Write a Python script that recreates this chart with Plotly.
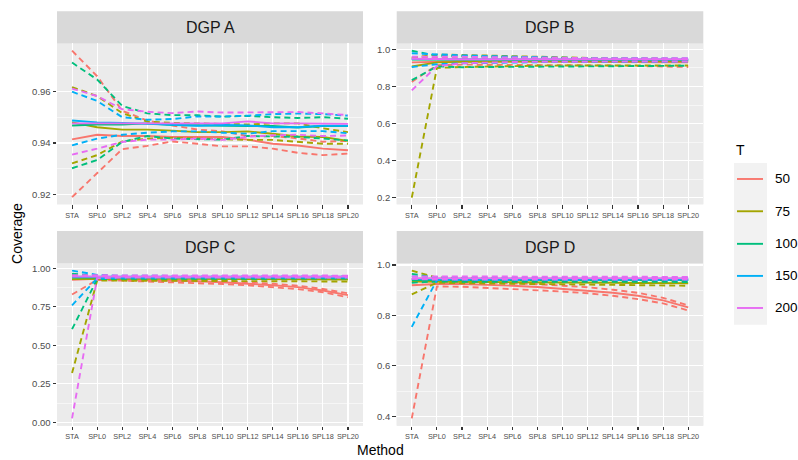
import plotly.graph_objects as go

methods = ["STA", "SPL0", "SPL2", "SPL4", "SPL6", "SPL8", "SPL10", "SPL12", "SPL14", "SPL16", "SPL18", "SPL20"]
T_levels = ["50", "75", "100", "150", "200"]
T_colors = ["#F8766D", "#A3A500", "#00BF7D", "#00B0F6", "#E76BF3"]
panels = ["DGP A", "DGP B", "DGP C", "DGP D"]

# ---------------- DGP A ----------------
A_50_hi = [0.9758, 0.9659, 0.9525, 0.9487, 0.9468, 0.9452, 0.9445, 0.9427, 0.9427, 0.9418, 0.9405, 0.9408]
A_50_mid = [0.9414, 0.9432, 0.9427, 0.9427, 0.9423, 0.9423, 0.9423, 0.9413, 0.9397, 0.9390, 0.9378, 0.9372]
A_50_lo = [0.9190, 0.9283, 0.9376, 0.9389, 0.9406, 0.9397, 0.9387, 0.9387, 0.9378, 0.9362, 0.9353, 0.9359]
A_75_hi = [0.9617, 0.9582, 0.9516, 0.9483, 0.9478, 0.9476, 0.9476, 0.9472, 0.9476, 0.9476, 0.9457, 0.9442]
A_75_mid = [0.9480, 0.9461, 0.9452, 0.9452, 0.9448, 0.9442, 0.9442, 0.9445, 0.9436, 0.9425, 0.9423, 0.9408]
A_75_lo = [0.9321, 0.9353, 0.9406, 0.9417, 0.9420, 0.9417, 0.9413, 0.9412, 0.9412, 0.9405, 0.9397, 0.9397]
A_100_hi = [0.9712, 0.9646, 0.9544, 0.9515, 0.9508, 0.9508, 0.9502, 0.9505, 0.9500, 0.9497, 0.9500, 0.9494]
A_100_mid = [0.9468, 0.9472, 0.9472, 0.9476, 0.9470, 0.9468, 0.9468, 0.9466, 0.9466, 0.9460, 0.9466, 0.9466]
A_100_lo = [0.9302, 0.9334, 0.9404, 0.9427, 0.9417, 0.9414, 0.9413, 0.9427, 0.9426, 0.9424, 0.9417, 0.9410]
A_150_hi = [0.9599, 0.9563, 0.9500, 0.9490, 0.9493, 0.9503, 0.9503, 0.9506, 0.9512, 0.9514, 0.9512, 0.9506]
A_150_mid = [0.9487, 0.9480, 0.9478, 0.9474, 0.9470, 0.9467, 0.9470, 0.9468, 0.9461, 0.9461, 0.9467, 0.9467]
A_150_lo = [0.9391, 0.9417, 0.9432, 0.9440, 0.9445, 0.9445, 0.9440, 0.9436, 0.9446, 0.9446, 0.9446, 0.9438]
A_200_hi = [0.9611, 0.9582, 0.9531, 0.9521, 0.9516, 0.9522, 0.9518, 0.9518, 0.9518, 0.9520, 0.9515, 0.9508]
A_200_mid = [0.9476, 0.9476, 0.9476, 0.9476, 0.9476, 0.9476, 0.9476, 0.9484, 0.9476, 0.9476, 0.9476, 0.9474]
A_200_lo = [0.9355, 0.9378, 0.9404, 0.9413, 0.9413, 0.9417, 0.9412, 0.9424, 0.9430, 0.9432, 0.9427, 0.9429]

# ---------------- DGP B ----------------
B_50_hi = [0.955, 0.955, 0.955, 0.952, 0.950, 0.948, 0.947, 0.946, 0.946, 0.945, 0.945, 0.944]
B_50_mid = [0.930, 0.935, 0.936, 0.935, 0.935, 0.934, 0.934, 0.933, 0.933, 0.932, 0.931, 0.930]
B_50_lo = [0.825, 0.915, 0.918, 0.918, 0.917, 0.916, 0.915, 0.914, 0.913, 0.911, 0.909, 0.905]
B_75_hi = [0.955, 0.972, 0.970, 0.967, 0.962, 0.958, 0.955, 0.952, 0.951, 0.950, 0.949, 0.948]
B_75_mid = [0.908, 0.930, 0.933, 0.935, 0.936, 0.936, 0.936, 0.936, 0.936, 0.936, 0.936, 0.936]
B_75_lo = [0.200, 0.900, 0.905, 0.908, 0.910, 0.912, 0.913, 0.913, 0.913, 0.913, 0.913, 0.913]
B_100_hi = [0.993, 0.966, 0.963, 0.960, 0.957, 0.955, 0.953, 0.951, 0.950, 0.950, 0.949, 0.949]
B_100_mid = [0.945, 0.944, 0.944, 0.944, 0.944, 0.944, 0.943, 0.943, 0.943, 0.943, 0.943, 0.943]
B_100_lo = [0.834, 0.908, 0.904, 0.905, 0.907, 0.909, 0.910, 0.911, 0.911, 0.911, 0.911, 0.912]
B_150_hi = [0.979, 0.972, 0.968, 0.964, 0.960, 0.957, 0.955, 0.953, 0.952, 0.951, 0.951, 0.951]
B_150_mid = [0.948, 0.946, 0.946, 0.946, 0.946, 0.946, 0.946, 0.946, 0.946, 0.946, 0.946, 0.946]
B_150_lo = [0.905, 0.920, 0.925, 0.928, 0.930, 0.931, 0.932, 0.933, 0.933, 0.934, 0.934, 0.934]
B_200_hi = [0.960, 0.962, 0.960, 0.958, 0.956, 0.954, 0.953, 0.952, 0.952, 0.952, 0.952, 0.952]
B_200_mid = [0.950, 0.947, 0.947, 0.947, 0.947, 0.947, 0.947, 0.947, 0.947, 0.947, 0.947, 0.947]
B_200_lo = [0.779, 0.910, 0.925, 0.930, 0.932, 0.933, 0.934, 0.935, 0.935, 0.935, 0.935, 0.935]

# ---------------- DGP C ----------------
C_50_hi = [0.960, 0.940, 0.935, 0.933, 0.930, 0.925, 0.920, 0.912, 0.900, 0.888, 0.866, 0.838]
C_50_mid = [0.925, 0.932, 0.928, 0.925, 0.921, 0.916, 0.910, 0.902, 0.890, 0.878, 0.856, 0.826]
C_50_lo = [0.830, 0.925, 0.920, 0.915, 0.910, 0.905, 0.898, 0.890, 0.878, 0.865, 0.845, 0.812]
C_75_hi = [0.955, 0.945, 0.945, 0.944, 0.944, 0.944, 0.944, 0.944, 0.944, 0.944, 0.944, 0.944]
C_75_mid = [0.930, 0.933, 0.932, 0.932, 0.931, 0.930, 0.930, 0.930, 0.929, 0.929, 0.928, 0.928]
C_75_lo = [0.320, 0.920, 0.920, 0.920, 0.919, 0.918, 0.918, 0.917, 0.917, 0.916, 0.915, 0.914]
C_100_hi = [0.965, 0.950, 0.948, 0.947, 0.947, 0.947, 0.947, 0.947, 0.947, 0.947, 0.947, 0.947]
C_100_mid = [0.940, 0.940, 0.940, 0.940, 0.940, 0.940, 0.940, 0.940, 0.940, 0.940, 0.940, 0.940]
C_100_lo = [0.605, 0.930, 0.932, 0.933, 0.933, 0.933, 0.933, 0.933, 0.933, 0.933, 0.933, 0.933]
C_150_hi = [0.985, 0.958, 0.952, 0.951, 0.950, 0.950, 0.950, 0.950, 0.950, 0.950, 0.950, 0.950]
C_150_mid = [0.945, 0.945, 0.945, 0.945, 0.945, 0.945, 0.945, 0.945, 0.945, 0.945, 0.945, 0.945]
C_150_lo = [0.760, 0.935, 0.938, 0.940, 0.940, 0.940, 0.940, 0.940, 0.940, 0.940, 0.940, 0.940]
C_200_hi = [0.955, 0.955, 0.953, 0.953, 0.953, 0.953, 0.953, 0.953, 0.953, 0.953, 0.953, 0.953]
C_200_mid = [0.946, 0.946, 0.946, 0.946, 0.946, 0.946, 0.946, 0.946, 0.946, 0.946, 0.946, 0.946]
C_200_lo = [0.026, 0.936, 0.940, 0.941, 0.941, 0.941, 0.941, 0.941, 0.941, 0.941, 0.941, 0.941]

# ---------------- DGP D ----------------
D_50_hi = [0.945, 0.935, 0.935, 0.932, 0.928, 0.924, 0.918, 0.912, 0.902, 0.890, 0.870, 0.840]
D_50_mid = [0.920, 0.925, 0.925, 0.922, 0.918, 0.913, 0.906, 0.900, 0.890, 0.878, 0.860, 0.832]
D_50_lo = [0.392, 0.915, 0.914, 0.910, 0.905, 0.900, 0.895, 0.888, 0.878, 0.865, 0.848, 0.820]
D_75_hi = [0.978, 0.950, 0.948, 0.946, 0.945, 0.944, 0.943, 0.942, 0.941, 0.940, 0.940, 0.939]
D_75_mid = [0.935, 0.935, 0.934, 0.933, 0.932, 0.932, 0.931, 0.930, 0.930, 0.929, 0.928, 0.928]
D_75_lo = [0.884, 0.930, 0.928, 0.927, 0.925, 0.924, 0.923, 0.922, 0.921, 0.920, 0.919, 0.918]
D_100_hi = [0.965, 0.950, 0.948, 0.947, 0.947, 0.946, 0.946, 0.946, 0.946, 0.946, 0.946, 0.946]
D_100_mid = [0.940, 0.940, 0.940, 0.940, 0.940, 0.940, 0.940, 0.940, 0.940, 0.940, 0.940, 0.940]
D_100_lo = [0.930, 0.935, 0.934, 0.934, 0.934, 0.933, 0.933, 0.933, 0.933, 0.933, 0.933, 0.933]
D_150_hi = [0.955, 0.952, 0.950, 0.950, 0.950, 0.950, 0.950, 0.950, 0.950, 0.950, 0.950, 0.950]
D_150_mid = [0.945, 0.945, 0.945, 0.945, 0.945, 0.945, 0.945, 0.945, 0.945, 0.945, 0.945, 0.945]
D_150_lo = [0.755, 0.940, 0.940, 0.940, 0.940, 0.940, 0.940, 0.940, 0.940, 0.940, 0.940, 0.940]
D_200_hi = [0.955, 0.955, 0.953, 0.953, 0.953, 0.953, 0.953, 0.953, 0.953, 0.953, 0.953, 0.953]
D_200_mid = [0.948, 0.948, 0.948, 0.948, 0.948, 0.948, 0.948, 0.948, 0.948, 0.948, 0.948, 0.948]
D_200_lo = [0.945, 0.942, 0.942, 0.942, 0.942, 0.942, 0.942, 0.942, 0.942, 0.942, 0.942, 0.942]

panel_series = {
    "A": [(A_50_lo, A_50_hi, A_50_mid), (A_75_lo, A_75_hi, A_75_mid), (A_100_lo, A_100_hi, A_100_mid),
          (A_150_lo, A_150_hi, A_150_mid), (A_200_lo, A_200_hi, A_200_mid)],
    "B": [(B_50_lo, B_50_hi, B_50_mid), (B_75_lo, B_75_hi, B_75_mid), (B_100_lo, B_100_hi, B_100_mid),
          (B_150_lo, B_150_hi, B_150_mid), (B_200_lo, B_200_hi, B_200_mid)],
    "C": [(C_50_lo, C_50_hi, C_50_mid), (C_75_lo, C_75_hi, C_75_mid), (C_100_lo, C_100_hi, C_100_mid),
          (C_150_lo, C_150_hi, C_150_mid), (C_200_lo, C_200_hi, C_200_mid)],
    "D": [(D_50_lo, D_50_hi, D_50_mid), (D_75_lo, D_75_hi, D_75_mid), (D_100_lo, D_100_hi, D_100_mid),
          (D_150_lo, D_150_hi, D_150_mid), (D_200_lo, D_200_hi, D_200_mid)],
}

W, H = 798, 460
FONT = "Liberation Sans, Arial, sans-serif"

def px_x(v):
    return v / W

def px_y(v):
    return 1 - v / H

# panel geometry (pixels)
col_x = [(57, 363), (396.7, 703.3)]
row_y = [(40, 203), (262.7, 427.3)]
strip_y = [(7.3, 40), (230, 262.7)]

y_cfg = {
    "A": dict(range=[0.9162, 0.9786], dtick=0.02, minor=0.01, fmt=".2f"),
    "B": dict(range=[0.164, 1.032], dtick=0.2, minor=0.1, fmt=".1f"),
    "C": dict(range=[-0.022, 1.033], dtick=0.25, minor=0.125, fmt=".2f"),
    "D": dict(range=[0.363, 1.007], dtick=0.2, minor=0.1, fmt=".1f"),
}

fig = go.Figure()
shapes = []
annotations = []
keys = ["A", "B", "C", "D"]
for i, k in enumerate(keys):
    r, c = divmod(i, 2)
    ax = "" if i == 0 else str(i + 1)
    xref, yref = "x" + ax, "y" + ax
    for ti, (lo, hi, mid) in enumerate(panel_series[k]):
        col = T_colors[ti]
        for vals, dash in ((lo, "6px,4px"), (hi, "6px,4px"), (mid, "solid")):
            fig.add_trace(go.Scatter(
                x=methods, y=vals, mode="lines", xaxis=xref, yaxis=yref,
                line=dict(color=col, width=1.9, dash=dash),
                showlegend=False, hoverinfo="skip"))
    x0, x1 = col_x[c]
    y0, y1 = row_y[r]
    cfg = y_cfg[k]
    fig.layout["xaxis" + ax] = dict(
        domain=[px_x(x0), px_x(x1)], anchor=yref, type="category",
        categoryorder="array", categoryarray=methods, range=[-0.6, 11.6],
        showgrid=True, gridcolor="white", gridwidth=1.1, zeroline=False,
        ticks="outside", ticklen=3.5, tickwidth=1.1, tickcolor="#333333",
        tickfont=dict(family=FONT, size=7.3, color="#4D4D4D"), tickangle=0,
        showline=False, fixedrange=True)
    fig.layout["yaxis" + ax] = dict(
        domain=[px_y(y1), px_y(y0)], anchor=xref, range=cfg["range"],
        tick0=0, dtick=cfg["dtick"], tickformat=cfg["fmt"],
        showgrid=True, gridcolor="white", gridwidth=1.1, zeroline=False,
        minor=dict(dtick=cfg["minor"], tick0=0, showgrid=True, gridcolor="white", gridwidth=0.55, ticks=""),
        ticks="outside", ticklen=3.5, tickwidth=1.1, tickcolor="#333333",
        tickfont=dict(family=FONT, size=9.5, color="#4D4D4D"),
        showline=False, fixedrange=True)
    # panel background
    shapes.append(dict(type="rect", xref="paper", yref="paper", x0=px_x(x0), x1=px_x(x1),
                       y0=px_y(y1), y1=px_y(y0), fillcolor="#EBEBEB", line=dict(width=0), layer="below"))
    # strip
    sy0, sy1 = strip_y[r]
    shapes.append(dict(type="rect", xref="paper", yref="paper", x0=px_x(x0), x1=px_x(x1),
                       y0=px_y(sy1), y1=px_y(sy0), fillcolor="#D9D9D9", line=dict(width=0), layer="below"))
    annotations.append(dict(text=panels[i], xref="paper", yref="paper", x=px_x((x0 + x1) / 2),
                            y=px_y((sy0 + sy1) / 2), showarrow=False, xanchor="center", yanchor="middle",
                            font=dict(family=FONT, size=16, color="#1A1A1A")))

# axis titles
annotations.append(dict(text="Method", xref="paper", yref="paper", x=px_x(380), y=px_y(452),
                        showarrow=False, xanchor="center", yanchor="middle",
                        font=dict(family=FONT, size=14, color="black")))
annotations.append(dict(text="Coverage", xref="paper", yref="paper", x=px_x(17), y=px_y(233),
                        showarrow=False, xanchor="center", yanchor="middle", textangle=-90,
                        font=dict(family=FONT, size=14, color="black")))

# legend (drawn manually, ggplot style)
annotations.append(dict(text="T", xref="paper", yref="paper", x=px_x(734), y=px_y(148),
                        showarrow=False, xanchor="left", yanchor="middle",
                        font=dict(family=FONT, size=14, color="black")))
shapes.append(dict(type="rect", xref="paper", yref="paper", x0=px_x(734), x1=px_x(767),
                   y0=px_y(325), y1=px_y(161), fillcolor="#F2F2F2", line=dict(width=0), layer="below"))
legend_y = [177.3, 210, 243, 275.5, 308]
for ti, lab in enumerate(T_levels):
    yy = legend_y[ti]
    shapes.append(dict(type="line", xref="paper", yref="paper", x0=px_x(737), x1=px_x(763),
                       y0=px_y(yy), y1=px_y(yy), line=dict(color=T_colors[ti], width=1.9)))
    annotations.append(dict(text=lab, xref="paper", yref="paper", x=px_x(773), y=px_y(yy),
                            showarrow=False, xanchor="left", yanchor="middle",
                            font=dict(family=FONT, size=13.5, color="black")))

fig.update_layout(
    width=W, height=H, margin=dict(l=0, r=0, t=0, b=0),
    paper_bgcolor="white", plot_bgcolor="#EBEBEB",
    shapes=shapes, annotations=annotations, showlegend=False,
    font=dict(family=FONT))

fig.write_html("out.html", config={"displayModeBar": False, "staticPlot": True},
               post_script="document.body.style.margin='0px';document.body.style.overflow='hidden';")
